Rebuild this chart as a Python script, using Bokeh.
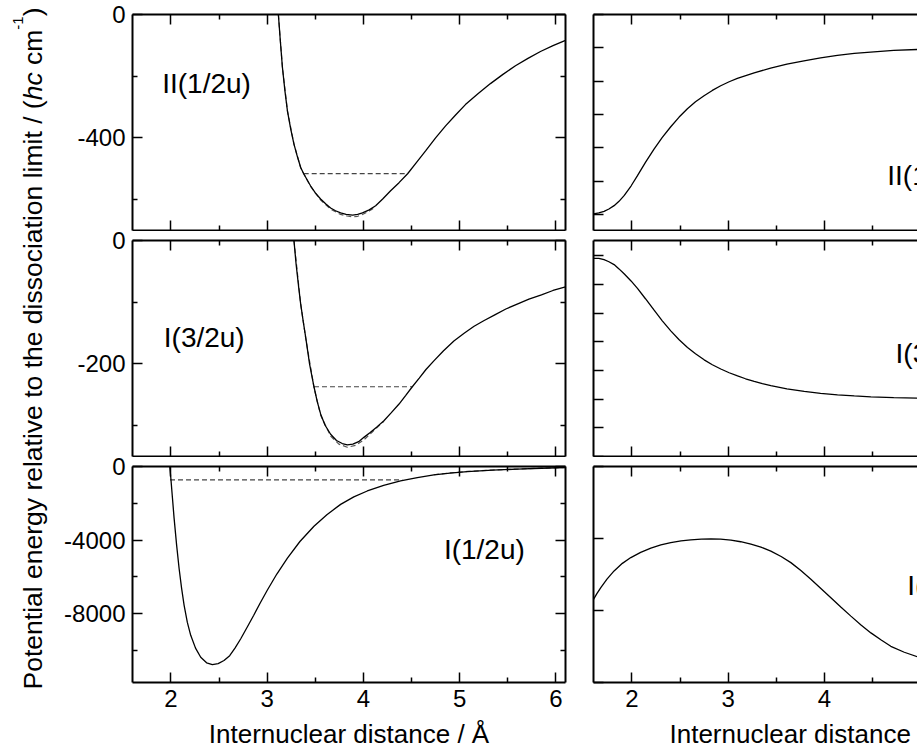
import math
from bokeh.plotting import figure
from bokeh.layouts import row, column
from bokeh.models import LinearAxis, FixedTicker, Range1d
from bokeh.core.properties import value
from bokeh.embed import file_html
from bokeh.resources import INLINE

FONT = "Liberation Sans"

# ---------------- data ----------------
x_limits = (1.6, 6.1)
x_major = [2, 3, 4, 5, 6]
x_major_labels = ["2", "3", "4", "5", "6"]
x_minor = [2.5, 3.5, 4.5, 5.5]
x_title = "Internuclear distance / Å"

# Left column: potential energy curves
tl_x = [3.116, 3.135, 3.158, 3.185, 3.21, 3.245, 3.278, 3.315, 3.348, 3.379, 3.45, 3.50, 3.555, 3.61,
        3.659, 3.71, 3.763, 3.82, 3.888, 3.94, 3.99, 4.06, 4.127, 4.20, 4.28, 4.37, 4.459, 4.55, 4.646,
        4.75, 4.854, 4.96, 5.06, 5.19, 5.32, 5.45, 5.58, 5.71, 5.84, 5.97, 6.1]
tl_y = [0, -80, -171, -250, -312, -372, -420, -462, -496, -516, -555, -578, -598, -614,
        -627, -636, -643, -648, -650, -648, -643, -633, -620, -598, -572, -545, -516, -480, -442,
        -400, -361, -325, -292, -257, -224, -194, -166, -142, -120, -101, -84]
tl_fit_x = [3.116, 3.158, 3.21, 3.278, 3.348, 3.45, 3.555, 3.659, 3.763, 3.83, 3.888, 3.94, 3.99,
            4.06, 4.127]
tl_fit_y = [0, -171, -312, -420, -497, -557, -601, -631, -648, -653, -656, -654, -648, -637, -623]
tl_level = [-516]
tl_level_x0 = [3.379]
tl_level_x1 = [4.459]
tl_range = (-700, 0)
tl_ticks = [-400, 0]
tl_tick_labels = ["-400", "0"]
tl_minor = [-600, -200]
tl_label = "II(1/2u)"
tl_label_pos = (1.909, -224)

ml_x = [3.278, 3.30, 3.325, 3.348, 3.375, 3.40, 3.44, 3.486, 3.52, 3.555, 3.60, 3.659, 3.72, 3.78,
        3.832, 3.89, 3.95, 4.005, 4.07, 4.14, 4.213, 4.29, 4.37, 4.44, 4.508, 4.58, 4.65, 4.732,
        4.83, 4.94, 5.05, 5.15, 5.25, 5.37, 5.48, 5.598, 5.72, 5.85, 5.97, 6.1]
ml_y = [0, -38, -73, -103, -132, -157, -200, -237, -261, -281, -299, -314, -324, -329,
        -331, -330, -326, -319, -311, -302, -292, -279, -265, -251, -237, -223, -209, -195,
        -179, -163, -150, -139, -130, -120, -111, -103, -95, -88, -81, -75]
ml_fit_x = [3.278, 3.348, 3.4, 3.486, 3.555, 3.659, 3.745, 3.832, 3.92, 4.005, 4.1, 4.213]
ml_fit_y = [0, -103, -158, -238, -283, -317, -330, -335, -332, -323, -309, -293]
ml_level = [-237]
ml_level_x0 = [3.486]
ml_level_x1 = [4.508]
ml_range = (-350, 0)
ml_ticks = [-200, 0]
ml_tick_labels = ["-200", "0"]
ml_minor = [-300, -100]
ml_label = "I(3/2u)"
ml_label_pos = (1.925, -157)

bl_x = [1.987, 1.998, 2.015, 2.032, 2.058, 2.084, 2.11, 2.136, 2.17, 2.205, 2.255, 2.309, 2.37, 2.43,
        2.49, 2.551, 2.61, 2.665, 2.725, 2.79, 2.86, 2.93, 3.002, 3.10, 3.21, 3.34, 3.486, 3.62,
        3.763, 3.90, 4.04, 4.21, 4.386, 4.56, 4.732, 4.9, 5.079, 5.34, 5.598, 5.85, 6.1]
bl_y = [0, -603, -1700, -2795, -4250, -5535, -6620, -7540, -8480, -9185, -9880, -10374, -10680, -10774,
        -10720, -10555, -10290, -9880, -9371, -8760, -8090, -7400, -6718, -5850, -4987, -4080, -3250,
        -2620, -2061, -1650, -1332, -1030, -784, -600, -455, -355, -274, -198, -143, -95, -55]
bl_fit_x = [4.732, 4.9, 5.079, 5.34, 5.598, 5.85, 6.1]
bl_fit_y = [-448, -348, -268, -193, -139, -92, -52]
bl_level = [-729]
bl_level_x0 = [1.99]
bl_level_x1 = [4.404]
bl_range = (-11750, 0)
bl_ticks = [-8000, -4000, 0]
bl_tick_labels = ["-8000", "-4000", "0"]
bl_minor = [-10000, -6000, -2000]
bl_label = "I(1/2u)"
bl_label_pos = (4.836, -4496)

# Right column (axis values not labelled in the picture)
tr_x = [1.6, 1.655, 1.71, 1.76, 1.814, 1.865, 1.918, 1.99, 2.057, 2.14, 2.229, 2.315, 2.403, 2.49,
        2.576, 2.66, 2.749, 2.835, 2.922, 3.01, 3.095, 3.27, 3.441, 3.61, 3.787, 3.96, 4.134, 4.31,
        4.48, 4.72, 4.97]
tr_y = [0.015, 0.04, 0.09, 0.16, 0.26, 0.39, 0.56, 0.85, 1.16, 1.56, 1.96, 2.31, 2.63, 2.92,
        3.17, 3.38, 3.56, 3.72, 3.86, 3.98, 4.08, 4.25, 4.39, 4.51, 4.61, 4.70, 4.77, 4.83,
        4.87, 4.92, 4.95]
tr_range = (-0.486, 6)
tr_ticks = [0, 1, 2, 3, 4, 5, 6]
tr_label = "II(1/2u)"
tr_label_pos = (4.653, 1.165)

mr_x = [1.6, 1.655, 1.71, 1.76, 1.814, 1.865, 1.918, 1.99, 2.057, 2.14, 2.23, 2.315, 2.403, 2.49,
        2.577, 2.66, 2.75, 2.835, 2.923, 3.01, 3.097, 3.18, 3.27, 3.355, 3.443, 3.61, 3.79, 3.96,
        4.136, 4.31, 4.483, 4.72, 4.97]
mr_y = [5.91, 5.91, 5.86, 5.79, 5.69, 5.54, 5.37, 5.12, 4.86, 4.5, 4.1, 3.73, 3.38, 3.07,
        2.80, 2.58, 2.37, 2.20, 2.05, 1.92, 1.81, 1.71, 1.62, 1.54, 1.47, 1.36, 1.27, 1.20,
        1.15, 1.11, 1.08, 1.05, 1.035]
mr_range = (-1.0, 6.53)
mr_ticks = [-1, 0, 1, 2, 3, 4, 5, 6]
mr_label = "I(3/2u)"
mr_label_pos = (4.739, 2.58)

br_x = [1.6, 1.635, 1.676, 1.74, 1.814, 1.9, 1.988, 2.09, 2.196, 2.3, 2.403, 2.51, 2.61, 2.72, 2.82,
        2.92, 3.028, 3.13, 3.236, 3.34, 3.443, 3.55, 3.651, 3.755, 3.859, 3.963, 4.067, 4.17, 4.275,
        4.38, 4.483, 4.59, 4.69, 4.83, 4.97]
br_y = [-1.845, -1.765, -1.683, -1.565, -1.45, -1.345, -1.265, -1.193, -1.134, -1.09, -1.056, -1.033,
        -1.018, -1.009, -1.006, -1.01, -1.022, -1.045, -1.078, -1.12, -1.175, -1.25, -1.335, -1.445,
        -1.566, -1.695, -1.823, -1.952, -2.078, -2.2, -2.311, -2.41, -2.497, -2.58, -2.645]
br_range = (-3, 0)
br_ticks = [-3, -2, -1, 0]
br_label = "I(1/2u)"
br_label_pos = (4.861, -1.646)

y_title_parts = [("Potential energy relative to the dissociation limit / (", "normal", False),
                 ("hc", "italic", False),
                 ("\u00a0cm", "normal", False),
                 ("-1", "normal", True),
                 (")", "normal", False)]

# ---------------- layout constants (page has no margin) ----------------
PAGE_W, PAGE_H = 917, 753
FRAME_H = 216
LEFT_FRAME_W = 433
RIGHT_FRAME_W = 324
TITLE_W = 56
LEFT_MB = (76, 13)
RIGHT_MB = (15, 0)
px_per_unit = LEFT_FRAME_W / (x_limits[1] - x_limits[0])
right_x_end = x_limits[0] + RIGHT_FRAME_W / px_per_unit
row_specs = [(14, 1), (9, 1), (9, 71)]   # (top border, bottom border)
TICK_FS = "24px"
TEXT_FS = "28px"
TITLE_FS = "26px"
# the right-hand x title starts 75 px right of its frame edge (it is centred on a wider frame)
RIGHT_TITLE_PAD = "\u00a0" * 15


def style_axis(ax, labels, tick_labels=None):
    ax.axis_line_width = 2
    ax.axis_line_color = "black"
    ax.major_tick_in = 10
    ax.major_tick_out = 0
    ax.minor_tick_in = 5
    ax.minor_tick_out = 0
    ax.major_tick_line_width = 1.5
    ax.minor_tick_line_width = 1.5
    ax.major_tick_line_color = "black"
    ax.minor_tick_line_color = "black"
    ticks = ax.ticker.ticks
    if labels:
        ax.major_label_text_font = FONT
        ax.major_label_text_font_size = TICK_FS
        ax.major_label_text_color = "black"
        ax.major_label_standoff = 7
        ax.major_label_overrides = {t: s for t, s in zip(ticks, tick_labels)}
    else:
        ax.major_label_text_font_size = "0px"
        ax.major_label_standoff = 0
        ax.major_label_overrides = {t: "" for t in ticks}


def base_fig(width, height, xr, yr, borders):
    l, r, t, b = borders
    p = figure(width=width, height=height, x_range=Range1d(*xr), y_range=Range1d(*yr),
               x_axis_location=None, y_axis_location=None, toolbar_location=None,
               output_backend="svg", min_border_left=l, min_border_right=r,
               min_border_top=t, min_border_bottom=b,
               background_fill_color="white", border_fill_color="white")
    p.outline_line_color = None
    p.xgrid.visible = False
    p.ygrid.visible = False
    return p


def make_panel(col, row_idx, y_rng, y_ticks, y_minor, y_tick_labels, xs, ys, label, label_pos,
               fit=None, level=None):
    top, bottom = row_specs[row_idx]
    if col == 0:
        (mb_l, mb_r), fw, x_end = LEFT_MB, LEFT_FRAME_W, x_limits[1]
    else:
        (mb_l, mb_r), fw, x_end = RIGHT_MB, RIGHT_FRAME_W, right_x_end
    p = base_fig(mb_l + fw + mb_r, top + FRAME_H + bottom, (x_limits[0], x_end), y_rng,
                 (mb_l, mb_r, top, bottom))

    bottom_row = row_idx == 2
    ax = LinearAxis(ticker=FixedTicker(ticks=x_major, minor_ticks=x_minor))
    style_axis(ax, bottom_row, x_major_labels)
    if bottom_row:
        ax.axis_label = x_title if col == 0 else RIGHT_TITLE_PAD + x_title
        ax.axis_label_text_font = FONT
        ax.axis_label_text_font_size = TITLE_FS
        ax.axis_label_text_font_style = "normal"
        ax.axis_label_text_color = "black"
        ax.axis_label_standoff = 9
    p.add_layout(ax, "below")
    ax = LinearAxis(ticker=FixedTicker(ticks=x_major, minor_ticks=x_minor))
    style_axis(ax, False)
    p.add_layout(ax, "above")
    ax = LinearAxis(ticker=FixedTicker(ticks=y_ticks, minor_ticks=y_minor))
    style_axis(ax, col == 0, y_tick_labels)
    p.add_layout(ax, "left")
    if col == 0:
        ax = LinearAxis(ticker=FixedTicker(ticks=y_ticks, minor_ticks=y_minor))
        style_axis(ax, False)
        p.add_layout(ax, "right")

    if level is not None:
        ly, lx0, lx1 = level
        p.segment(x0=lx0, y0=ly, x1=lx1, y1=ly, line_color="#444444", line_width=1.2,
                  line_dash="5 3")
    if fit is not None:
        p.line(fit[0], fit[1], line_color="#555555", line_width=1.2, line_dash="5 3")
    p.line(xs, ys, line_color="black", line_width=1.3)
    p.text(x=[label_pos[0]], y=[label_pos[1]], text=[label], text_font=value(FONT),
           text_font_size=TEXT_FS, text_baseline="middle", text_align="left", text_color="black")
    return p


l1 = make_panel(0, 0, tl_range, tl_ticks, tl_minor, tl_tick_labels, tl_x, tl_y, tl_label, tl_label_pos,
                fit=(tl_fit_x, tl_fit_y), level=(tl_level, tl_level_x0, tl_level_x1))
l2 = make_panel(0, 1, ml_range, ml_ticks, ml_minor, ml_tick_labels, ml_x, ml_y, ml_label, ml_label_pos,
                fit=(ml_fit_x, ml_fit_y), level=(ml_level, ml_level_x0, ml_level_x1))
l3 = make_panel(0, 2, bl_range, bl_ticks, bl_minor, bl_tick_labels, bl_x, bl_y, bl_label, bl_label_pos,
                fit=(bl_fit_x, bl_fit_y), level=(bl_level, bl_level_x0, bl_level_x1))
r1 = make_panel(1, 0, tr_range, tr_ticks, [], None, tr_x, tr_y, tr_label, tr_label_pos)
r2 = make_panel(1, 1, mr_range, mr_ticks, [], None, mr_x, mr_y, mr_label, mr_label_pos)
r3 = make_panel(1, 2, br_range, br_ticks, [], None, br_x, br_y, br_label, br_label_pos)

# ---------------- rotated y title ----------------
W = {' ': 278, '\u00a0': 278, '(': 333, ')': 333, '/': 278, '-': 333, '1': 556, 'P': 667, 'a': 556,
     'c': 500, 'd': 556, 'e': 556, 'g': 556, 'h': 556, 'i': 222, 'l': 222, 'm': 833, 'n': 556,
     'o': 556, 'r': 333, 's': 500, 't': 278, 'u': 556, 'v': 500, 'y': 500}
MAIN_SIZE = 26.5
SUP_SIZE = 15


def tw(s, size):
    return sum(W.get(c, 556) for c in s) / 1000.0 * size


tf = base_fig(TITLE_W, PAGE_H, (0, TITLE_W), (0, PAGE_H), (0, 0, 0, 0))
total_len = sum(tw(t, SUP_SIZE if sup else MAIN_SIZE) for t, _, sup in y_title_parts)
center_page_y = 348
ypos = (PAGE_H - center_page_y) - total_len / 2
base_x = 32
for t, style, sup in y_title_parts:
    size = SUP_SIZE if sup else MAIN_SIZE
    tf.text(x=[base_x - (15 if sup else 0)], y=[ypos], text=[t], angle=math.pi / 2,
            text_font=value(FONT), text_font_size=f"{size}px", text_font_style=style,
            text_align="left", text_baseline="alphabetic", text_color="black")
    ypos += tw(t, size)

layout = row(tf, column(l1, l2, l3), column(r1, r2, r3))
open("out.html", "w").write(file_html(layout, INLINE))
